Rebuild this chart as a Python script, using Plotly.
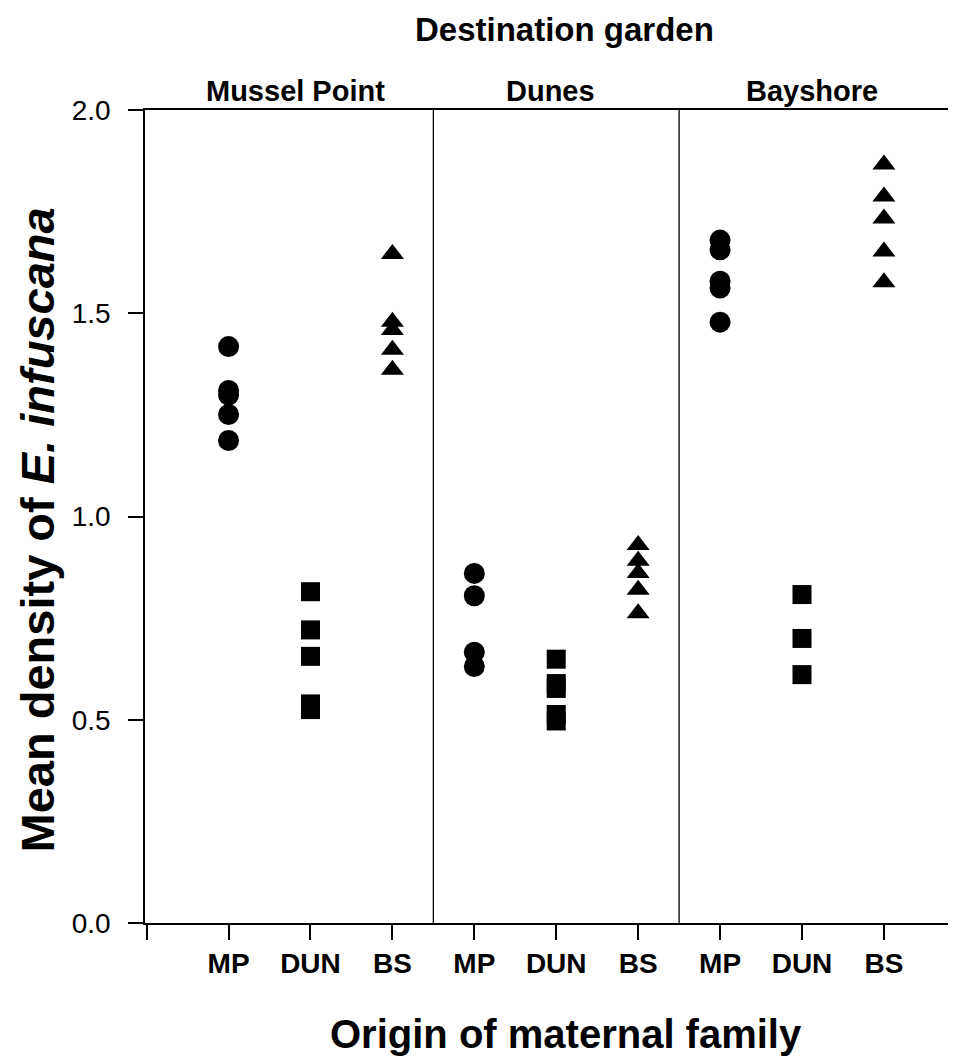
import plotly.graph_objects as go

# ---- data -------------------------------------------------------------
gardens = ["Mussel Point", "Dunes", "Bayshore"]
origins = ["MP", "DUN", "BS"]

# values[garden][origin] : mean density of E. infuscana per maternal family
mussel_mp = [1.418, 1.310, 1.299, 1.251, 1.187]
mussel_dun = [0.815, 0.721, 0.656, 0.539, 0.525]
mussel_bs = [1.646, 1.479, 1.459, 1.410, 1.361]

dunes_mp = [0.860, 0.805, 0.666, 0.631]
dunes_dun = [0.649, 0.589, 0.577, 0.513, 0.497]
dunes_bs = [0.930, 0.891, 0.861, 0.820, 0.762]

bay_mp = [1.680, 1.656, 1.579, 1.562, 1.478]
bay_dun = [0.808, 0.700, 0.611]
bay_bs = [1.866, 1.787, 1.733, 1.652, 1.576]

values = {
    "Mussel Point": {"MP": mussel_mp, "DUN": mussel_dun, "BS": mussel_bs},
    "Dunes": {"MP": dunes_mp, "DUN": dunes_dun, "BS": dunes_bs},
    "Bayshore": {"MP": bay_mp, "DUN": bay_dun, "BS": bay_bs},
}

y_ticks = [0.0, 0.5, 1.0, 1.5, 2.0]
y_ticklabels = ["0.0", "0.5", "1.0", "1.5", "2.0"]

# ---- style -------------------------------------------------------------
symbols = {"MP": "circle", "DUN": "square", "BS": "triangle-up"}
sizes = {"MP": 21, "DUN": 19, "BS": 20}
FONT = "Liberation Sans, Arial, Helvetica, sans-serif"

fig = go.Figure()

# category positions: 1..9
cat_pos = []
cat_text = []
for gi, g in enumerate(gardens):
    for oi, o in enumerate(origins):
        cat_pos.append(gi * 3 + oi + 1)
        cat_text.append(o)

for oi, o in enumerate(origins):
    xs, ys = [], []
    for gi, g in enumerate(gardens):
        vals = values[g][o]
        xs += [gi * 3 + oi + 1] * len(vals)
        ys += vals
    fig.add_trace(go.Scatter(
        x=xs, y=ys, mode="markers", name=o,
        marker=dict(symbol=symbols[o], size=sizes[o], color="black",
                    line=dict(width=0)),
        showlegend=False, cliponaxis=False,
    ))

# panel dividers between gardens
for gi in range(1, len(gardens)):
    edge = gi * 3 + 0.5
    fig.add_shape(type="line", xref="x", yref="y", x0=edge, x1=edge,
                  y0=0, y1=2, line=dict(color="black", width=1.3))

# page body has an 8px margin, so the figure is 8px smaller
fig.update_layout(
    width=948, height=1050,
    margin=dict(l=137, r=0, t=102, b=135),
    paper_bgcolor="white", plot_bgcolor="white",
    font=dict(family=FONT, color="black"),
)

fig.update_xaxes(
    range=[-0.02, 9.88],
    tickvals=[0] + cat_pos, ticktext=[""] + cat_text,
    ticks="outside", ticklen=15, tickwidth=1.6, tickcolor="black",
    showline=True, linecolor="black", linewidth=1.6, mirror=True,
    showgrid=False, zeroline=False,
    tickfont=dict(family=FONT, size=28, color="black", weight="bold"),
)
fig.update_yaxes(
    range=[0, 2],
    tickvals=y_ticks, ticktext=y_ticklabels,
    ticks="outside", ticklen=15, tickwidth=1.6, tickcolor="black",
    showline=True, linecolor="black", linewidth=1.6,
    showgrid=False, zeroline=False, ticklabelstandoff=12,
    tickfont=dict(family=FONT, size=28, color="black"),
)

# panel titles
title_x = [1.82, 4.93, 8.12]
for g, tx in zip(gardens, title_x):
    fig.add_annotation(text=g, xref="x", yref="paper", x=tx, y=1.0234,
                       showarrow=False, xanchor="center", yanchor="middle",
                       font=dict(family=FONT, size=29, color="black",
                                 weight="bold"))

fig.add_annotation(text="Destination garden", xref="paper", yref="paper",
                   x=0.517, y=1.0996, showarrow=False,
                   xanchor="center", yanchor="middle",
                   font=dict(family=FONT, size=33, color="black",
                             weight="bold"))

fig.add_annotation(text="Origin of maternal family", xref="paper",
                   yref="paper", x=0.519, y=-0.1365, showarrow=False,
                   xanchor="center", yanchor="middle",
                   font=dict(family=FONT, size=40, color="black",
                             weight="bold"))

fig.add_annotation(text="Mean density of <i>E. infuscana</i>", xref="paper",
                   yref="paper", x=-0.133, y=0.483, showarrow=False,
                   textangle=-90, xanchor="center", yanchor="middle",
                   font=dict(family=FONT, size=47, color="black",
                             weight="bold"))

fig.write_html("out.html")
